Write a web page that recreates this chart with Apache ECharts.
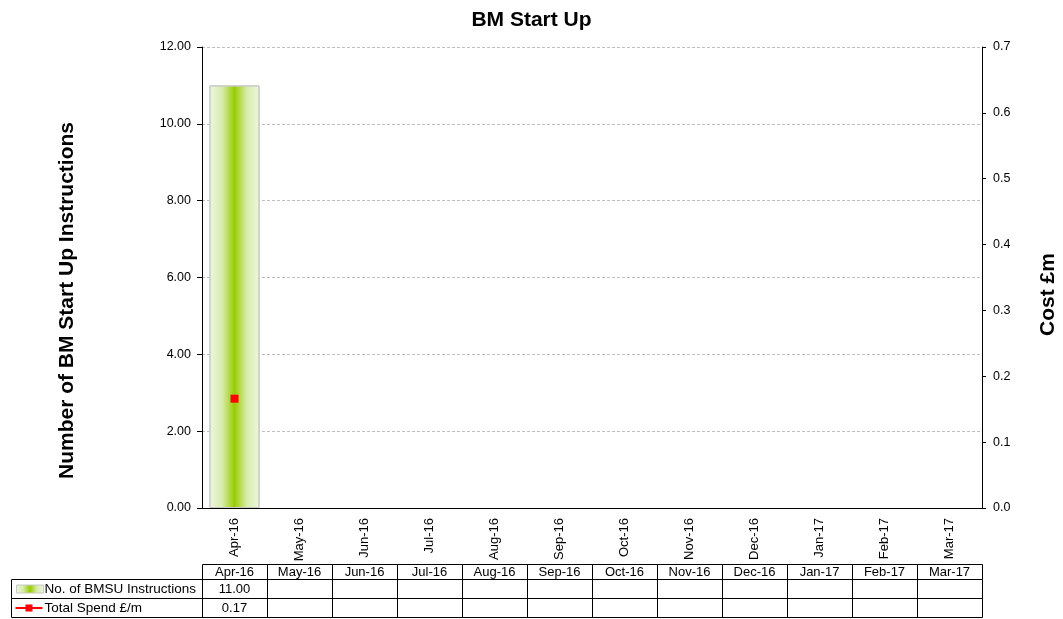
<!DOCTYPE html>
<html>
<head>
<meta charset="utf-8">
<script src="https://cdn.jsdelivr.net/npm/echarts@6/dist/echarts.min.js"></script>
<style>
html,body{margin:0;padding:0;background:#fff;}
#chart{width:1063px;height:619px;}
</style>
</head>
<body>
<div id="chart"></div>
<script>
const categories = ['Apr-16','May-16','Jun-16','Jul-16','Aug-16','Sep-16','Oct-16','Nov-16','Dec-16','Jan-17','Feb-17','Mar-17'];
const instructions = [11.00, null, null, null, null, null, null, null, null, null, null, null];
const totalSpend = [0.166, null, null, null, null, null, null, null, null, null, null, null];
const seriesNames = ['No. of BMSU Instructions', 'Total Spend £/m'];
const leftAxisRange = [0, 12, 2];
const rightAxisRange = [0, 0.7, 0.1];

const FONT = "'Liberation Sans', Arial, sans-serif";
const barGradient = new echarts.graphic.LinearGradient(0, 0, 1, 0, [
  {offset: 0, color: '#eef7de'},
  {offset: 0.25, color: '#d8ecae'},
  {offset: 0.5, color: '#99cc00'},
  {offset: 0.75, color: '#d8ecae'},
  {offset: 1, color: '#eef7de'}
]);

const chart = echarts.init(document.getElementById('chart'), null, {renderer: 'canvas'});
chart.setOption({
  animation: false,
  backgroundColor: '#fff',
  textStyle: {fontFamily: FONT},
  title: {
    text: 'BM Start Up', left: 'center', top: 5,
    textStyle: {fontSize: 21, fontWeight: 'bold', color: '#000', fontFamily: FONT}
  },
  grid: {left: 202, right: 81, top: 47, bottom: 111, containLabel: false, outerBoundsMode: 'none'},
  xAxis: {
    type: 'category', data: categories,
    axisLine: {lineStyle: {color: '#000', width: 1}},
    axisTick: {length: 5, lineStyle: {color: '#000'}},
    axisLabel: {rotate: 90, fontSize: 13, color: '#000', margin: 10, interval: 0, fontFamily: FONT},
    splitLine: {show: false}
  },
  yAxis: [{
    type: 'value', min: leftAxisRange[0], max: leftAxisRange[1], interval: leftAxisRange[2],
    name: 'Number of BM Start Up Instructions', nameLocation: 'middle', nameGap: 124, nameRotate: 90,
    nameTextStyle: {fontSize: 21, fontWeight: 'bold', color: '#000', fontFamily: FONT, padding: [0, 46, 0, 0]},
    axisLine: {show: true, lineStyle: {color: '#000'}},
    axisTick: {show: true, length: 5, lineStyle: {color: '#000'}},
    axisLabel: {fontSize: 12.5, color: '#000', margin: 11, formatter: v => v.toFixed(2), fontFamily: FONT},
    splitLine: {show: true, lineStyle: {color: '#bfbfbf', type: [3, 2], width: 1}}
  }, {
    type: 'value', min: rightAxisRange[0], max: rightAxisRange[1], interval: rightAxisRange[2],
    position: 'right',
    name: 'Cost £m', nameLocation: 'middle', nameGap: 56, nameRotate: 90,
    nameTextStyle: {fontSize: 21, fontWeight: 'bold', color: '#000', fontFamily: FONT, padding: [0, 34, 0, 0]},
    axisLine: {show: true, lineStyle: {color: '#000'}},
    axisTick: {show: true, length: 4, lineStyle: {color: '#000'}},
    axisLabel: {fontSize: 12.5, color: '#000', margin: 11, formatter: v => v.toFixed(1), fontFamily: FONT},
    splitLine: {show: false}
  }],
  series: [{
    name: seriesNames[0], type: 'bar', data: instructions, yAxisIndex: 0,
    barCategoryGap: '23%',
    itemStyle: {color: barGradient, borderColor: '#c8c8c8', borderWidth: 1}
  }, {
    name: seriesNames[1], type: 'line', data: totalSpend, yAxisIndex: 1,
    symbol: 'rect', symbolSize: 8, showSymbol: true,
    lineStyle: {color: '#ff0000', width: 2},
    itemStyle: {color: '#ff0000'}, z: 5
  }]
});

// Data table built from the axis layout
function buildTable() {
  const xs = categories.map(c => chart.convertToPixel({xAxisIndex: 0}, c));
  const bw = xs.length > 1 ? xs[1] - xs[0] : 65;
  const y0 = chart.convertToPixel({yAxisIndex: 0}, 0);
  const headTop = Math.round(y0 + 56) + 0.5;
  const headH = 15, rowH = 19;
  const r1 = headTop + headH, r2 = r1 + rowH;
  const tableLeft = Math.round(xs[0] - bw / 2) + 0.5;
  const legendLeft = 11.5;
  const els = [];
  const stroke = {stroke: '#000', lineWidth: 1, fill: null};
  const font = '13px ' + FONT;
  const legendFont = '13.5px ' + FONT;
  categories.forEach((c, i) => {
    const x = Math.round(xs[i] - bw / 2) + 0.5;
    const w = Math.round(xs[i] + bw / 2) + 0.5 - x;
    els.push({type: 'rect', shape: {x, y: headTop, width: w, height: headH}, style: stroke, silent: true});
    els.push({type: 'rect', shape: {x, y: r1, width: w, height: rowH}, style: stroke, silent: true});
    els.push({type: 'rect', shape: {x, y: r2, width: w, height: rowH}, style: stroke, silent: true});
    els.push({type: 'text', x: xs[i], y: headTop + headH / 2 + 0.5,
      style: {text: c, align: 'center', verticalAlign: 'middle', font, fill: '#000'}, silent: true});
    if (instructions[i] != null) {
      els.push({type: 'text', x: xs[i], y: r1 + rowH / 2,
        style: {text: instructions[i].toFixed(2), align: 'center', verticalAlign: 'middle', font, fill: '#000'}, silent: true});
    }
    if (totalSpend[i] != null) {
      els.push({type: 'text', x: xs[i], y: r2 + rowH / 2,
        style: {text: totalSpend[i].toFixed(2), align: 'center', verticalAlign: 'middle', font, fill: '#000'}, silent: true});
    }
  });
  const lw = tableLeft - legendLeft;
  els.push({type: 'rect', shape: {x: legendLeft, y: r1, width: lw, height: rowH}, style: stroke, silent: true});
  els.push({type: 'rect', shape: {x: legendLeft, y: r2, width: lw, height: rowH}, style: stroke, silent: true});
  els.push({type: 'rect', shape: {x: legendLeft + 5, y: r1 + 5.5, width: 27, height: 8},
    style: {fill: barGradient, stroke: '#c8c8c8', lineWidth: 1}, silent: true});
  els.push({type: 'text', x: legendLeft + 33, y: r1 + rowH / 2 + 0.5,
    style: {text: seriesNames[0], align: 'left', verticalAlign: 'middle', font: legendFont, fill: '#000'}, silent: true});
  els.push({type: 'line', shape: {x1: legendLeft + 4, y1: r2 + rowH / 2, x2: legendLeft + 31, y2: r2 + rowH / 2},
    style: {stroke: '#ff0000', lineWidth: 2}, silent: true});
  els.push({type: 'rect', shape: {x: legendLeft + 14, y: r2 + rowH / 2 - 3.5, width: 7, height: 7},
    style: {fill: '#ff0000'}, silent: true});
  els.push({type: 'text', x: legendLeft + 33, y: r2 + rowH / 2 + 0.5,
    style: {text: seriesNames[1], align: 'left', verticalAlign: 'middle', font: legendFont, fill: '#000'}, silent: true});
  chart.setOption({graphic: {elements: els}});
}
buildTable();
</script>
</body>
</html>
